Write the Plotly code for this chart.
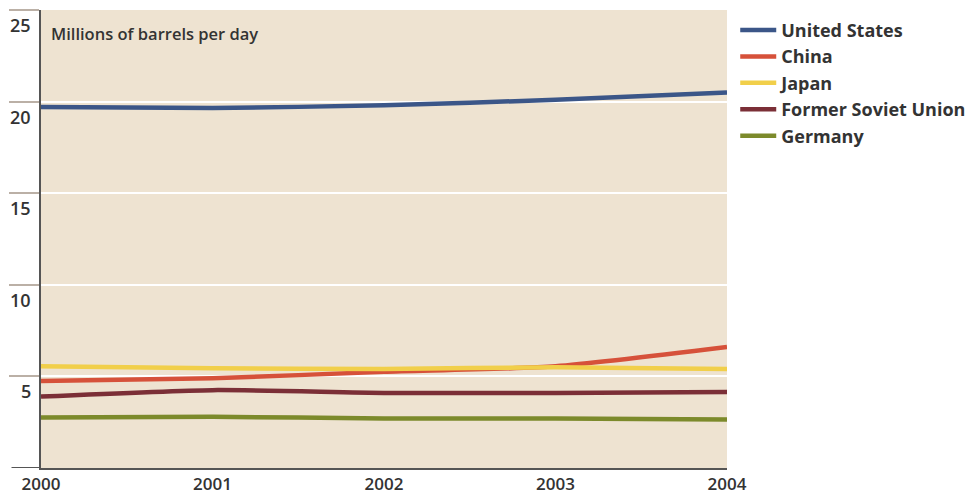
import plotly.graph_objects as go

years = [2000, 2001, 2002, 2003, 2004]
us = [19.7, 19.65, 19.8, 20.1, 20.5]
china = [4.75, 4.9, 5.25, 5.55, 6.6]
japan = [5.55, 5.45, 5.4, 5.5, 5.4]
fsu = [3.9, 4.25, 4.1, 4.1, 4.15]
germany = [2.75, 2.8, 2.7, 2.7, 2.65]

series = [
    ("United States", us, "#3b5688"),
    ("China", china, "#d6513a"),
    ("Japan", japan, "#f1cf4a"),
    ("Former Soviet Union", fsu, "#7b2f37"),
    ("Germany", germany, "#7c8a2b"),
]
y_ticks = [5, 10, 15, 20, 25]
x_ticks = [2000, 2001, 2002, 2003, 2004]

fig = go.Figure()
for name, vals, col in series:
    fig.add_trace(go.Scatter(x=years, y=vals, name=name, mode="lines",
                             line=dict(color=col, width=4.5, shape="spline", smoothing=0.6)))

font_fam = "Open Sans, Noto Sans, sans-serif"
for v in y_ticks:
    fig.add_annotation(x=0, xref="paper", y=v, yref="y", text=str(v), showarrow=False,
                       xanchor="right", yanchor="top", xshift=-8, yshift=-1,
                       font=dict(family=font_fam, size=18, color="#333333", weight=600))

fig.add_annotation(x=0, xref="paper", y=1, yref="paper", text="Millions of barrels per day",
                   showarrow=False, xanchor="left", yanchor="top", xshift=8, yshift=-10,
                   font=dict(family=font_fam, size=16.5, color="#333333", weight=600))

fig.add_shape(type="line", xref="paper", yref="y", x0=-0.043, x1=0, y0=0, y1=0,
              line=dict(color="#555555", width=2))

fig.update_layout(
    width=972, height=495,
    margin=dict(l=41, r=245, t=10, b=27, autoexpand=False),
    paper_bgcolor="white",
    plot_bgcolor="#eee3d1",
    font=dict(family=font_fam, color="#333333"),
    legend=dict(x=1.012, xanchor="left", y=0.996, yanchor="top",
                font=dict(family=font_fam, size=18, color="#333333", weight=700),
                bgcolor="rgba(0,0,0,0)", tracegroupgap=0, itemwidth=36),
    xaxis=dict(range=[2000, 2004], tickvals=x_ticks, ticktext=[str(t) for t in x_ticks],
               showgrid=False, showline=True, linecolor="#555555", linewidth=2,
               ticks="", tickfont=dict(family=font_fam, size=17, color="#333333", weight=600),
               zeroline=False, fixedrange=True),
    yaxis=dict(range=[0, 25], tickvals=y_ticks, showticklabels=False,
               showgrid=True, gridcolor="white", gridwidth=2,
               ticks="outside", ticklen=30, tickcolor="#bbb0a6", tickwidth=2,
               showline=True, linecolor="#555555", linewidth=2, zeroline=False, fixedrange=True),
)

fig.write_html("out.html")
